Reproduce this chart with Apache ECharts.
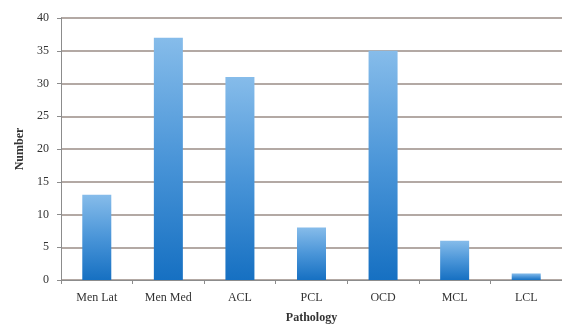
<!DOCTYPE html>
<html>
<head>
<meta charset="utf-8">
<script src="https://cdn.jsdelivr.net/npm/echarts@6/dist/echarts.min.js"></script>
<style>
  html, body { margin: 0; padding: 0; background: #ffffff; }
  #chart { width: 562px; height: 329px; }
</style>
</head>
<body>
<div id="chart"></div>
<script>
// Pathology counts
const categories = ['Men Lat', 'Men Med', 'ACL', 'PCL', 'OCD', 'MCL', 'LCL'];
const counts = [13, 37, 31, 8, 35, 6, 1];
const yTicks = { min: 0, max: 40, interval: 5 };

const chart = echarts.init(document.getElementById('chart'), null, { renderer: 'canvas' });

const serif = '"Liberation Serif", "DejaVu Serif", serif';
const textColor = '#333333';

chart.setOption({
  animation: false,
  backgroundColor: '#ffffff',
  grid: { left: 61, top: 18, width: 504, height: 267, containLabel: false },
  xAxis: {
    type: 'category',
    data: categories,
    name: 'Pathology',
    nameLocation: 'middle',
    nameGap: 32,
    nameTextStyle: { fontFamily: serif, fontWeight: 'bold', fontSize: 12, color: textColor },
    axisLine: { show: true, lineStyle: { color: '#8c8c8c', width: 1 } },
    axisTick: { show: true, length: 4, lineStyle: { color: '#8c8c8c' } },
    axisLabel: { fontFamily: serif, fontSize: 12, color: textColor, margin: 12 },
    splitLine: { show: false }
  },
  yAxis: {
    type: 'value',
    min: yTicks.min,
    max: yTicks.max,
    interval: yTicks.interval,
    name: 'Number',
    nameLocation: 'middle',
    nameGap: 29,
    nameRotate: 90,
    nameTextStyle: { fontFamily: serif, fontWeight: 'bold', fontSize: 12, color: textColor },
    axisLine: { show: true, lineStyle: { color: '#8c8c8c', width: 1 } },
    axisTick: { show: true, length: 4, lineStyle: { color: '#8c8c8c' } },
    axisLabel: { fontFamily: serif, fontSize: 12, color: textColor, margin: 12 },
    splitLine: { show: true, lineStyle: { color: '#9a8c86', width: 1.6 } }
  },
  series: [{
    type: 'bar',
    data: counts,
    barWidth: 29,
    itemStyle: {
      color: new echarts.graphic.LinearGradient(0, 0, 0, 1, [
        { offset: 0, color: '#86bcea' },
        { offset: 0.5, color: '#4a95d8' },
        { offset: 1, color: '#1670c2' }
      ])
    }
  }]
});
</script>
</body>
</html>
